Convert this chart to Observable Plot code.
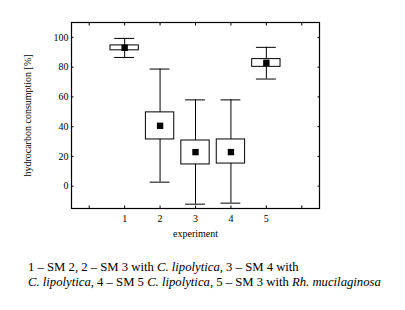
<!DOCTYPE html>
<html>
<head>
<meta charset="utf-8">
<script src="https://cdn.jsdelivr.net/npm/d3@7"></script>
<script src="https://cdn.jsdelivr.net/npm/@observablehq/plot@0.6"></script>
<style>
  html, body { margin: 0; padding: 0; background: #fff; }
  #chart svg { display: block; }
  #caption { font-family: "Liberation Serif", serif; font-size: 12.7px; line-height: 15px; margin: 15px 0 0 28px; color: #000; white-space: nowrap; }
</style>
</head>
<body>
<div id="chart"></div>
<div id="caption">1 – SM 2, 2 – SM 3 with <i>C. lipolytica</i>, 3 – SM 4 with<br><i>C. lipolytica</i>, 4 – SM 5 <i>C. lipolytica</i>, 5 – SM 3 with <i>Rh. mucilaginosa</i></div>
<script>
const experiments = [1, 2, 3, 4, 5];
const means      = [93, 40.6, 22.9, 22.9, 82.9];
const boxLow     = [91.3, 31.4, 14.6, 15.2, 80.2];
const boxHigh    = [94.6, 49.6, 30.7, 31.4, 85.4];
const whiskerLow = [86.5, 2.7, -12.1, -11.4, 72.0];
const whiskerHigh= [99.3, 78.7, 58.0, 58.0, 93.3];
const xTicks = [0, 1, 2, 3, 4, 5, 6];
const xLabels = [1, 2, 3, 4, 5];
const yTicks = [0, 20, 40, 60, 80, 100];

const data = experiments.map((e, i) => ({
  exp: e, mean: means[i], q1: boxLow[i], q3: boxHigh[i], lo: whiskerLow[i], hi: whiskerHigh[i]
}));

const boxHalf = 0.4, capHalf = 0.28;

const chart = Plot.plot({
  width: 405,
  height: 245,
  marginLeft: 71,
  marginRight: 86,
  marginTop: 22,
  marginBottom: 37,
  style: { fontFamily: "Liberation Serif, serif", fontSize: "10px", color: "#000", background: "#fff" },
  x: { domain: [-0.5, 6.5] },
  y: { domain: [-15, 110] },
  marks: [
    Plot.ruleX(data, { x: "exp", y1: "lo", y2: "hi", stroke: "#000", strokeWidth: 1 }),
    Plot.ruleY(data, { y: "hi", x1: d => d.exp - capHalf, x2: d => d.exp + capHalf, stroke: "#000" }),
    Plot.ruleY(data, { y: "lo", x1: d => d.exp - capHalf, x2: d => d.exp + capHalf, stroke: "#000" }),
    Plot.rect(data, { x1: d => d.exp - boxHalf, x2: d => d.exp + boxHalf, y1: "q1", y2: "q3", fill: "#fff", stroke: "#000", strokeWidth: 1 }),
    Plot.dot(data, { x: "exp", y: "mean", symbol: "square", r: 3.6, fill: "#000", stroke: "none" }),
    Plot.frame({ stroke: "#000", strokeWidth: 1.2 }),
    // inward ticks on all sides
    Plot.axisX(xTicks, { anchor: "bottom", tickSize: -2.5, tickFormat: () => "", label: null }),
    Plot.axisX(xTicks, { anchor: "top", tickSize: -2.5, tickFormat: () => "", label: null }),
    Plot.axisY(yTicks, { anchor: "left", tickSize: -2.5, tickFormat: () => "", label: null }),
    Plot.axisY(yTicks, { anchor: "right", tickSize: -2.5, tickFormat: () => "", label: null }),
    // labels
    Plot.axisX(xLabels, { anchor: "bottom", tickSize: 0, tickPadding: 6, label: "experiment", labelAnchor: "center", labelOffset: 28, labelArrow: "none" }),
    Plot.axisY(yTicks, { anchor: "left", tickSize: 0, tickPadding: 3, label: "hydrocarbon consumption [%]", labelAnchor: "center", labelOffset: 48, labelArrow: "none" })
  ]
});
document.getElementById("chart").appendChild(chart);
</script>
</body>
</html>
